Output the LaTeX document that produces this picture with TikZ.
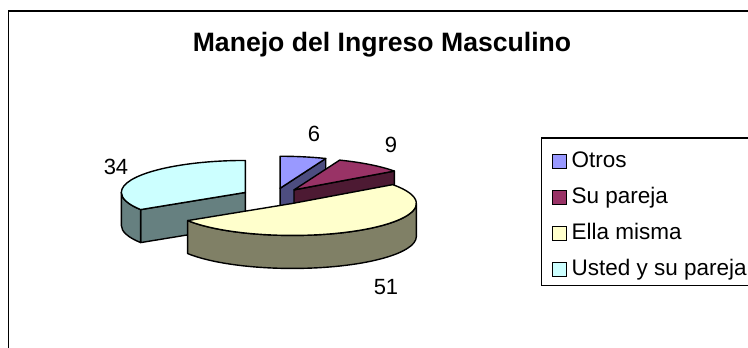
\documentclass[tikz,border=0pt]{standalone}
\usepackage{fontspec}
\setmainfont{Liberation Sans}
\usetikzlibrary{calc}
\definecolor{otrostop}{RGB}{153,153,255}
\definecolor{otrosside}{RGB}{77,77,128}
\definecolor{parejatop}{RGB}{153,51,102}
\definecolor{parejaside}{RGB}{77,26,51}
\definecolor{ellatop}{RGB}{255,255,204}
\definecolor{ellaside}{RGB}{128,128,102}
\definecolor{ustedtop}{RGB}{204,255,255}
\definecolor{ustedside}{RGB}{102,128,128}
\tikzset{
  slicepart/.style={draw=black, line width=1.4pt, line join=round},
  keybox/.style={draw=black, line width=1.2pt, minimum size=14pt, inner sep=0pt},
  keytext/.style={anchor=base west, inner sep=0pt, font=\fontsize{22.5}{27}\selectfont},
  valtext/.style={anchor=base, inner sep=0pt, font=\fontsize{22}{26}\selectfont}
}

\begin{document}
\begin{tikzpicture}[x=1pt,y=1pt]
    \useasboundingbox (0,0) rectangle (748,348);
    \draw[line width=1.5pt] (748,337) -- (8.5,337) -- (8.5,0);
    \node[anchor=base, inner sep=0pt, font=\fontsize{26.6}{32}\selectfont\bfseries] (titulo) at (382,296) {Manejo del Ingreso Masculino};
    % pie centre and exploded slice corners
    \coordinate (O) at (274,151.5);
    \coordinate (otrosC) at ($(O)+(79.2:32.7 and 8.4)$);
    \coordinate (parejaC) at ($(O)+(52.2:32.7 and 8.4)$);
    \coordinate (ellaC) at ($(O)+(-55.8:32.7 and 8.4)$);
    \coordinate (ustedC) at ($(O)+(151.2:32.7 and 8.4)$);
    % Otros
    \filldraw[slicepart, fill=otrosside] (otrosC) -- ++(68.4:124 and 32) -- ++(0,-33) -- ($(otrosC)+(0,-33)$) -- cycle;
    \filldraw[slicepart, fill=otrostop] (otrosC) -- ++(68.4:124 and 32) arc[start angle=68.4, end angle=90, x radius=124, y radius=32] -- cycle;
    % Su pareja
    \filldraw[slicepart, fill=parejaside] (parejaC) -- ++(36:124 and 32) -- ++(0,-33) -- ($(parejaC)+(0,-33)$) -- cycle;
    \filldraw[slicepart, fill=parejatop] (parejaC) -- ++(36:124 and 32) arc[start angle=36, end angle=68.4, x radius=124, y radius=32] -- cycle;
    % Usted y su pareja
    \filldraw[slicepart, fill=ustedside] (ustedC) -- ++(212.4:124 and 32) -- ++(0,-33) -- ($(ustedC)+(0,-33)$) -- cycle;
    \filldraw[slicepart, fill=ustedside] (ustedC) ++(180:124 and 32) arc[start angle=180, end angle=212.4, x radius=124, y radius=32] -- ++(0,-33) arc[start angle=212.4, end angle=180, x radius=124, y radius=32] -- cycle;
    \filldraw[slicepart, fill=ustedtop] (ustedC) -- ++(90:124 and 32) arc[start angle=90, end angle=212.4, x radius=124, y radius=32] -- cycle;
    % Ella misma
    \filldraw[slicepart, fill=ellaside] (ellaC) ++(212.4:124 and 32) arc[start angle=212.4, end angle=360, x radius=124, y radius=32] -- ++(0,-33) arc[start angle=360, end angle=212.4, x radius=124, y radius=32] -- cycle;
    \filldraw[slicepart, fill=ellatop] (ellaC) -- ++(212.4:124 and 32) arc[start angle=212.4, end angle=396, x radius=124, y radius=32] -- cycle;
    % values
    \node[valtext] (valotros) at (314,206) {6};
    \node[valtext] (valpareja) at (391,195) {9};
    \node[valtext] (valusted) at (116,173) {34};
    \node[valtext] (valella) at (386,53) {51};
    % legend
    \draw[line width=1.3pt] (748,210) -- (541.5,210) -- (541.5,62.5) -- (748,62.5);
    \node[keybox, fill=otrostop] (keyotros) at (559.7,186.3) {};
    \node[keybox, fill=parejatop] (keypareja) at (559.7,150.3) {};
    \node[keybox, fill=ellatop] (keyella) at (559.7,114.3) {};
    \node[keybox, fill=ustedtop] (keyusted) at (559.7,78.3) {};
    \node[keytext] (txtotros) at (571.5,180.3) {Otros};
    \node[keytext] (txtpareja) at (571.5,144.3) {Su pareja};
    \node[keytext] (txtella) at (571.5,108.3) {Ella misma};
    \node[keytext] (txtusted) at (571.5,72.3) {Usted y su pareja};
\end{tikzpicture}
\end{document}
